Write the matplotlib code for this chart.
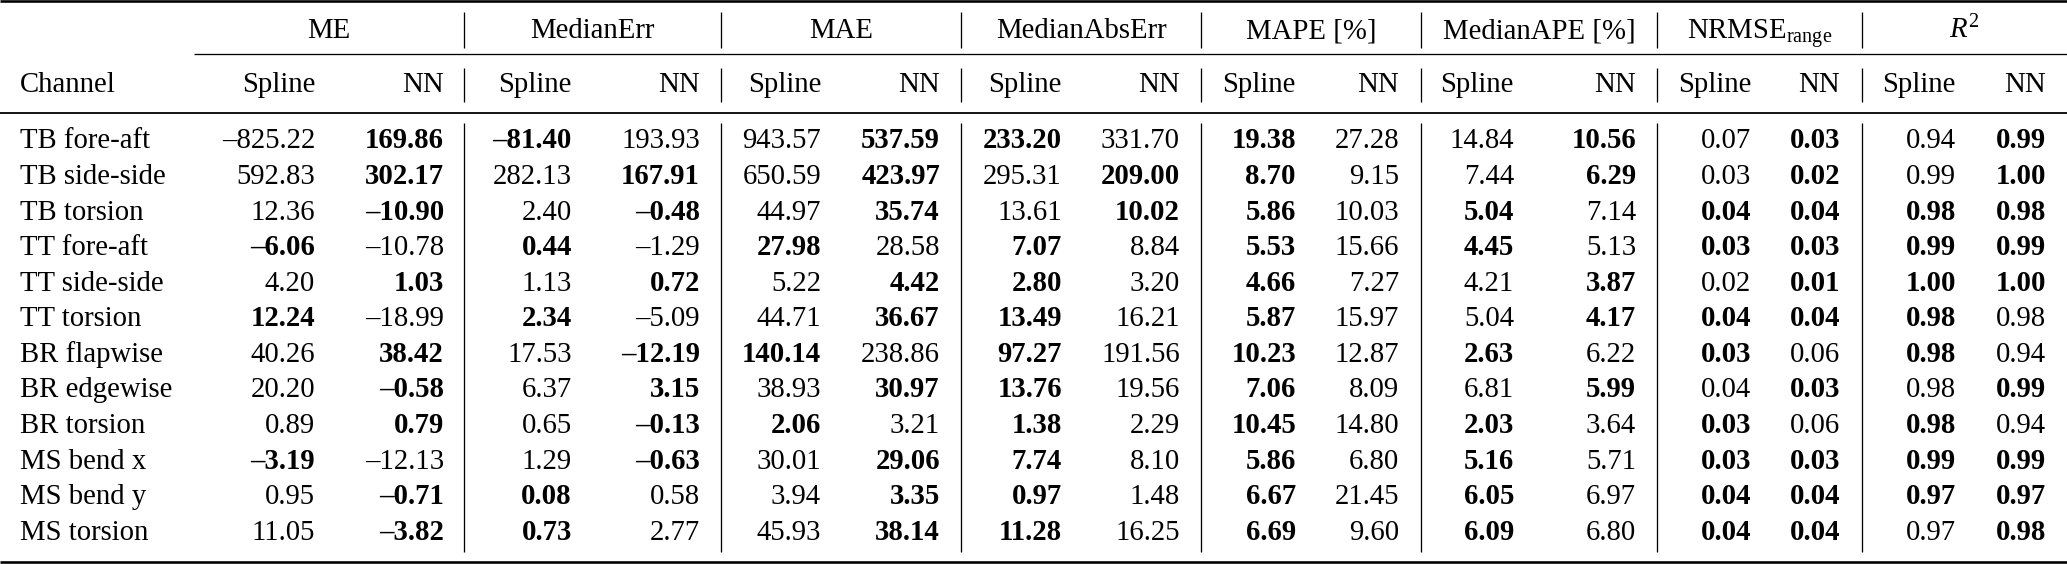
import matplotlib
matplotlib.use("Agg")
import matplotlib.pyplot as plt

plt.rcParams['font.family'] = ['Liberation Serif', 'DejaVu Serif']
plt.rcParams['mathtext.fontset'] = 'custom'
plt.rcParams['mathtext.rm'] = 'Liberation Serif'
plt.rcParams['mathtext.it'] = 'Liberation Serif:italic'

# Tabell-data
channels = ["TB fore-aft", "TB side-side", "TB torsion", "TT fore-aft", "TT side-side",
            "TT torsion", "BR flapwise", "BR edgewise", "BR torsion", "MS bend x",
            "MS bend y", "MS torsion"]
metrics = ["ME", "MedianErr", "MAE", "MedianAbsErr", "MAPE [%]", "MedianAPE [%]",
           r"NRMSE$_{\mathrm{range}}$", r"$R^2$"]
models = ["Spline", "NN"]

me_spline = [-825.22, 592.83, 12.36, -6.06, 4.20, 12.24, 40.26, 20.20, 0.89, -3.19, 0.95, 11.05]
me_nn = [169.86, 302.17, -10.90, -10.78, 1.03, -18.99, 38.42, -0.58, 0.79, -12.13, -0.71, -3.82]
mederr_spline = [-81.40, 282.13, 2.40, 0.44, 1.13, 2.34, 17.53, 6.37, 0.65, 1.29, 0.08, 0.73]
mederr_nn = [193.93, 167.91, -0.48, -1.29, 0.72, -5.09, -12.19, 3.15, -0.13, -0.63, 0.58, 2.77]
mae_spline = [943.57, 650.59, 44.97, 27.98, 5.22, 44.71, 140.14, 38.93, 2.06, 30.01, 3.94, 45.93]
mae_nn = [537.59, 423.97, 35.74, 28.58, 4.42, 36.67, 238.86, 30.97, 3.21, 29.06, 3.35, 38.14]
medabs_spline = [233.20, 295.31, 13.61, 7.07, 2.80, 13.49, 97.27, 13.76, 1.38, 7.74, 0.97, 11.28]
medabs_nn = [331.70, 209.00, 10.02, 8.84, 3.20, 16.21, 191.56, 19.56, 2.29, 8.10, 1.48, 16.25]
mape_spline = [19.38, 8.70, 5.86, 5.53, 4.66, 5.87, 10.23, 7.06, 10.45, 5.86, 6.67, 6.69]
mape_nn = [27.28, 9.15, 10.03, 15.66, 7.27, 15.97, 12.87, 8.09, 14.80, 6.80, 21.45, 9.60]
medape_spline = [14.84, 7.44, 5.04, 4.45, 4.21, 5.04, 2.63, 6.81, 2.03, 5.16, 6.05, 6.09]
medape_nn = [10.56, 6.29, 7.14, 5.13, 3.87, 4.17, 6.22, 5.99, 3.64, 5.71, 6.97, 6.80]
nrmse_spline = [0.07, 0.03, 0.04, 0.03, 0.02, 0.04, 0.03, 0.04, 0.03, 0.03, 0.04, 0.04]
nrmse_nn = [0.03, 0.02, 0.04, 0.03, 0.01, 0.04, 0.06, 0.03, 0.06, 0.03, 0.04, 0.04]
r2_spline = [0.94, 0.99, 0.98, 0.99, 1.00, 0.98, 0.98, 0.98, 0.98, 0.99, 0.97, 0.97]
r2_nn = [0.99, 1.00, 0.98, 0.99, 1.00, 0.98, 0.94, 0.99, 0.94, 0.99, 0.97, 0.98]

# Beste verdi (fet skrift): S = Spline, N = NN, B = begge
best_me = "NNNSNSNNNSNN"
best_mederr = "SNNSNSNNNNSS"
best_mae = "NNNSNNSNSNNN"
best_medabs = "SNNSSSSSSSSS"
best_mape = "SSSSSSSSSSSS"
best_medape = "NNSSNNSNSSSS"
best_nrmse = "NNBBNBSNSBBB"
best_r2 = "NNBBBSSNSBBN"

spline_cols = [me_spline, mederr_spline, mae_spline, medabs_spline,
               mape_spline, medape_spline, nrmse_spline, r2_spline]
nn_cols = [me_nn, mederr_nn, mae_nn, medabs_nn, mape_nn, medape_nn, nrmse_nn, r2_nn]
best_cols = [best_me, best_mederr, best_mae, best_medabs, best_mape,
             best_medape, best_nrmse, best_r2]

# Layout (piksler)
W, H = 2067, 564
fs = 20.7
group_edges = [194, 464, 721, 961, 1201, 1421, 1657, 1862, 2067]
spline_right = [315, 572, 821, 1062, 1296, 1514, 1751, 1956]
nn_right = [444, 700, 940, 1180, 1399, 1636, 1840, 2046]
row0, row_step = 148.5, 35.56


def fmt(v):
    s = f"{v:.2f}"
    return s.replace("-", "\u2013")


fig = plt.figure(figsize=(W / 100, H / 100), dpi=100)
ax = fig.add_axes([0, 0, 1, 1])
ax.set_xlim(0, W)
ax.set_ylim(H, 0)
ax.axis('off')

px = 0.72  # 1 px i punkter

# Linjer
ax.plot([0, W], [1.3, 1.3], color='black', lw=2.6 * px, solid_capstyle='butt')
ax.plot([group_edges[0], W], [54, 54], color='black', lw=1.3 * px, solid_capstyle='butt')
ax.plot([0, W], [113.3, 113.3], color='black', lw=1.8 * px, solid_capstyle='butt')
ax.plot([0, W], [562, 562], color='black', lw=2.6 * px, solid_capstyle='butt')
for x in group_edges[1:-1]:
    for y0, y1 in [(12, 48), (68, 102), (123, 552)]:
        ax.plot([x, x], [y0, y1], color='black', lw=1.3 * px, solid_capstyle='butt')

# Overskrifter
for g, name in enumerate(metrics):
    cx = (group_edges[g] + group_edges[g + 1]) / 2
    ax.text(cx, 38.5, name, fontsize=fs, ha='center', va='baseline')
    ax.text(spline_right[g], 92.3, models[0], fontsize=fs, ha='right', va='baseline')
    ax.text(nn_right[g], 92.3, models[1], fontsize=fs, ha='right', va='baseline')
ax.text(20, 92.3, "Channel", fontsize=fs, ha='left', va='baseline')

# Rader
for i, ch in enumerate(channels):
    y = row0 + i * row_step
    ax.text(20, y, ch, fontsize=fs, ha='left', va='baseline')
    for g in range(len(metrics)):
        b = best_cols[g][i]
        ax.text(spline_right[g], y, fmt(spline_cols[g][i]), fontsize=fs, ha='right',
                va='baseline', fontweight='bold' if b in "SB" else 'normal')
        ax.text(nn_right[g], y, fmt(nn_cols[g][i]), fontsize=fs, ha='right',
                va='baseline', fontweight='bold' if b in "NB" else 'normal')

fig.savefig("out.png", dpi=100, facecolor='white')
